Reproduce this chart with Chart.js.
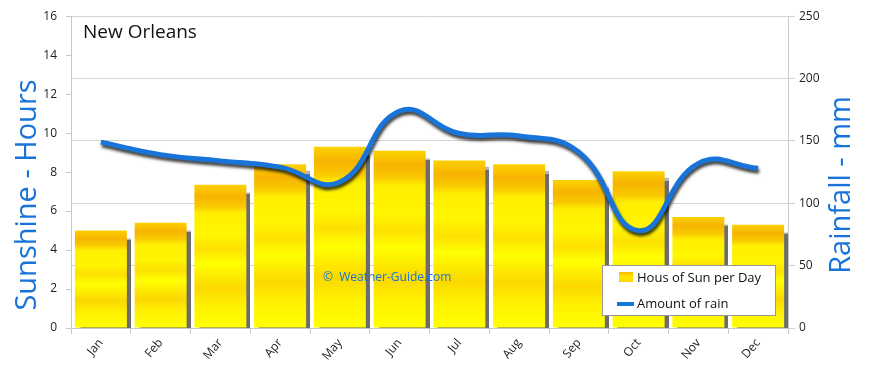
<!DOCTYPE html>
<html lang="en">
<head>
    <meta charset="UTF-8">
    <title>New Orleans - Sunshine and Rainfall</title>
    <script src="https://cdn.jsdelivr.net/npm/chart.js"></script>
    <style>
        html, body { margin: 0; padding: 0; background: #fff; }
        #wrap { width: 870px; height: 368px; position: relative; }
    </style>
</head>
<body>
    <div id="wrap">
        <canvas id="climateChart" width="870" height="368"></canvas>
    </div>

    <script>
        const months = ['Jan', 'Feb', 'Mar', 'Apr', 'May', 'Jun', 'Jul', 'Aug', 'Sep', 'Oct', 'Nov', 'Dec'];
        const sunHours = [5.0, 5.4, 7.35, 8.4, 9.3, 9.1, 8.6, 8.4, 7.6, 8.05, 5.7, 5.3];
        const rainMm = [149, 139, 134, 129, 117, 174, 156, 154, 141, 78, 132, 128];

        const sunLabel = 'Hous of Sun per Day';
        const rainLabel = 'Amount of rain';
        const cityTitle = 'New Orleans';
        const leftTitle = 'Sunshine - Hours';
        const rightTitle = 'Rainfall - mm';
        const watermark = '\u00A9  Weather-Guide.com';

        const FONT = "'Open Sans', 'DejaVu Sans', sans-serif";
        const BLUE = '#1874d8';

        Chart.defaults.font.family = FONT;
        Chart.defaults.color = '#222';

        // bright yellow bar with an orange band near the top and faint streaks
        function barFill(context) {
            const chart = context.chart;
            const area = chart.chartArea;
            if (!area) return '#ffff00';
            const yScale = chart.scales.y;
            const top = yScale.getPixelForValue(context.raw || 0);
            const g = chart.ctx.createLinearGradient(0, top, 0, area.bottom);
            g.addColorStop(0, '#fcd200');
            g.addColorStop(0.08, '#f6b400');
            g.addColorStop(0.15, '#f9c800');
            g.addColorStop(0.2, '#ffee00');
            g.addColorStop(0.35, '#fff600');
            g.addColorStop(0.45, '#fde000');
            g.addColorStop(0.55, '#ffff00');
            g.addColorStop(0.72, '#fbd800');
            g.addColorStop(0.85, '#fff200');
            g.addColorStop(1, '#ffff00');
            return g;
        }

        const shadowPlugin = {
            id: 'shadows',
            beforeDatasetDraw(chart, args) {
                const ctx = chart.ctx;
                ctx.save();
                if (args.meta.type === 'bar') {
                    ctx.shadowColor = 'rgba(100,100,100,0.95)';
                    ctx.shadowOffsetX = 4;
                    ctx.shadowOffsetY = 7;
                    ctx.shadowBlur = 1;
                } else {
                    ctx.shadowColor = 'rgba(0,0,0,0.75)';
                    ctx.shadowOffsetX = 1;
                    ctx.shadowOffsetY = 3;
                    ctx.shadowBlur = 3;
                }
            },
            afterDatasetDraw(chart) {
                chart.ctx.restore();
            }
        };

        const decorPlugin = {
            id: 'decor',
            afterDraw(chart) {
                const ctx = chart.ctx;
                const a = chart.chartArea;
                ctx.save();

                // city name
                ctx.fillStyle = '#111';
                ctx.font = '19px ' + FONT;
                ctx.textBaseline = 'middle';
                ctx.textAlign = 'left';
                ctx.fillText(cityTitle, a.left + 12, 33);

                // watermark
                ctx.fillStyle = BLUE;
                ctx.font = '12px ' + FONT;
                ctx.fillText(watermark, 323, 278);

                // axis titles
                ctx.font = '29px ' + FONT;
                ctx.textAlign = 'center';
                ctx.save();
                ctx.translate(28, 195);
                ctx.rotate(-Math.PI / 2);
                ctx.fillText(leftTitle, 0, 0);
                ctx.restore();
                ctx.save();
                ctx.translate(842, 185);
                ctx.rotate(-Math.PI / 2);
                ctx.fillText(rightTitle, 0, 0);
                ctx.restore();

                // legend box
                const lx = 602, ly = 265, lw = 173, lh = 50;
                ctx.fillStyle = '#fff';
                ctx.fillRect(lx, ly, lw, lh);
                ctx.strokeStyle = '#999';
                ctx.lineWidth = 1;
                ctx.strokeRect(lx + 0.5, ly + 0.5, lw, lh);

                const sw = ctx.createLinearGradient(0, ly + 7, 0, ly + 17);
                sw.addColorStop(0, '#f7b800');
                sw.addColorStop(0.5, '#ffea00');
                sw.addColorStop(1, '#ffd400');
                ctx.fillStyle = sw;
                ctx.fillRect(lx + 17, ly + 7, 14, 10);

                ctx.strokeStyle = BLUE;
                ctx.lineWidth = 4;
                ctx.beginPath();
                ctx.moveTo(lx + 15, ly + 39);
                ctx.lineTo(lx + 32, ly + 39);
                ctx.stroke();

                ctx.fillStyle = '#111';
                ctx.font = '13px ' + FONT;
                ctx.textAlign = 'left';
                ctx.fillText(sunLabel, lx + 35, ly + 13);
                ctx.fillText(rainLabel, lx + 35, ly + 39);

                ctx.restore();
            }
        };

        new Chart(document.getElementById('climateChart'), {
            data: {
                labels: months,
                datasets: [
                    {
                        type: 'line',
                        label: rainLabel,
                        data: rainMm,
                        yAxisID: 'y2',
                        borderColor: BLUE,
                        borderWidth: 5,
                        pointRadius: 0,
                        tension: 0.45,
                        fill: false,
                        order: 0
                    },
                    {
                        type: 'bar',
                        label: sunLabel,
                        data: sunHours,
                        yAxisID: 'y',
                        backgroundColor: barFill,
                        borderWidth: 0,
                        barPercentage: 1,
                        categoryPercentage: 0.87,
                        order: 1
                    }
                ]
            },
            plugins: [shadowPlugin, decorPlugin],
            options: {
                responsive: false,
                animation: false,
                layout: { padding: { top: 10, left: 0, right: 0, bottom: 0 } },
                plugins: {
                    legend: { display: false },
                    tooltip: { enabled: false }
                },
                scales: {
                    x: {
                        offset: true,
                        grid: { display: true, drawOnChartArea: false, offset: true, tickLength: 6, color: '#c8c8c8' },
                        border: { color: '#c8c8c8' },
                        ticks: { minRotation: 50, maxRotation: 50, font: { size: 12 }, color: '#222', padding: 2 },
                        afterFit: s => { s.height = 40; }
                    },
                    y: {
                        position: 'left',
                        min: 0,
                        max: 16,
                        ticks: { stepSize: 2, font: { size: 12 }, color: '#222', padding: 9 },
                        grid: { drawOnChartArea: false, tickLength: 5, color: '#c8c8c8' },
                        border: { color: '#c8c8c8' },
                        afterFit: s => { s.width = 71; }
                    },
                    y2: {
                        position: 'right',
                        min: 0,
                        max: 250,
                        ticks: { stepSize: 50, font: { size: 12 }, color: '#222', padding: 4 },
                        grid: { drawOnChartArea: true, tickLength: 7, color: '#d4d4d4' },
                        border: { color: '#c8c8c8' },
                        afterFit: s => { s.width = 82; }
                    }
                }
            }
        });
    </script>
</body>
</html>
